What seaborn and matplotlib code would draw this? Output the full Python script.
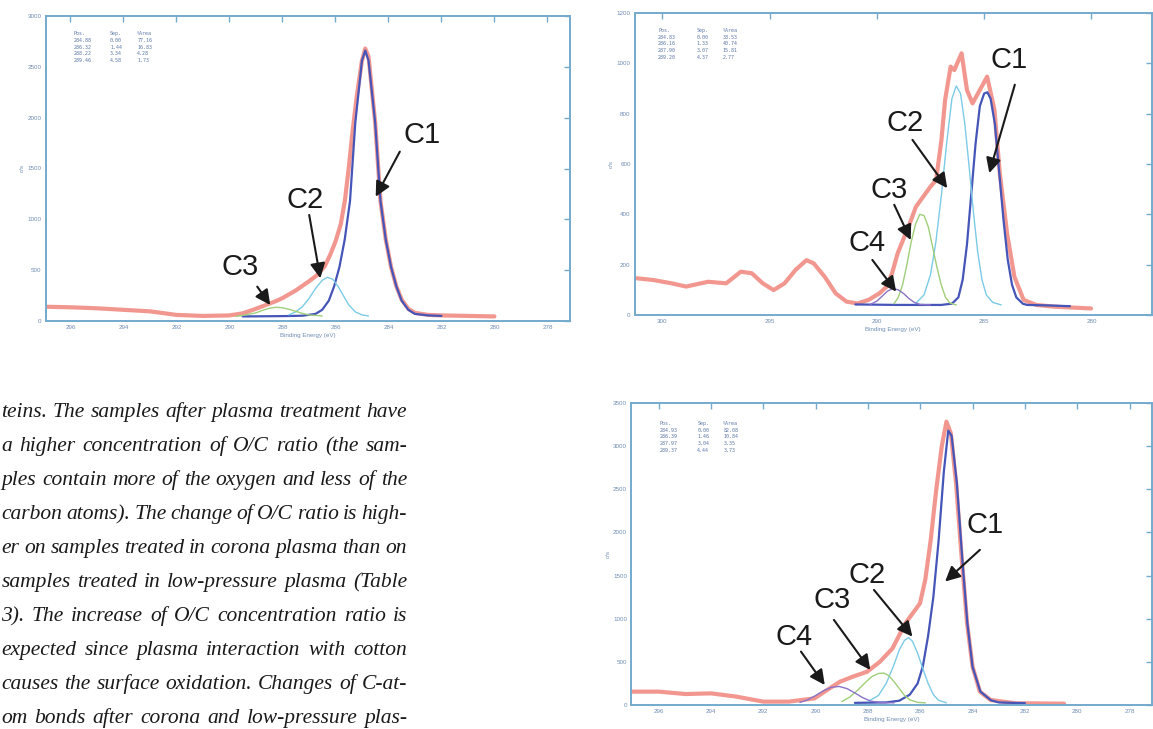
import numpy as np
import pandas as pd
import matplotlib
matplotlib.use("Agg")
import matplotlib.pyplot as plt
import seaborn as sns

sns.set_style("white")
plt.rcParams["font.family"] = ["Liberation Sans", "DejaVu Sans"]

# ---------------- data ----------------
# panel 1 (top left)
p1_red_e = [296.9, 296.0, 295.0, 294.0, 293.0, 292.0, 291.0, 290.0, 289.5, 289.0, 288.5, 288.25, 288.0,
            287.5, 287.0, 286.7, 286.4, 286.2, 286.0, 285.8, 285.64, 285.5, 285.36, 285.2, 285.0, 284.875,
            284.75, 284.5, 284.3, 284.1, 283.9, 283.7, 283.5, 283.25, 283.0, 282.5, 282.0, 281.0, 280.0]
p1_red_i = [140, 135, 125, 110, 95, 60, 50, 55, 75, 120, 170, 195, 225,
            300, 390, 450, 540, 650, 780, 950, 1190, 1500, 1850, 2200, 2560, 2680,
            2600, 1950, 1180, 800, 530, 340, 210, 120, 80, 60, 55, 50, 45]
p1_c1_e = [289.5, 288.0, 287.25, 286.75, 286.5, 286.25, 286.05, 285.85, 285.65, 285.45, 285.25, 285.0,
           284.875, 284.75, 284.5, 284.3, 284.1, 283.9, 283.7, 283.5, 283.25, 283.0, 282.5, 282.0]
p1_c1_i = [45, 48, 52, 70, 110, 200, 340, 530, 800, 1180, 1950, 2560,
           2660, 2560, 1950, 1180, 800, 530, 340, 200, 110, 70, 55, 50]
p1_c2_e = [287.75, 287.5, 287.25, 287.0, 286.75, 286.5, 286.3, 286.1, 285.9, 285.7, 285.5, 285.25, 285.0, 284.75]
p1_c2_i = [60, 90, 140, 220, 320, 400, 430, 410, 340, 250, 160, 90, 60, 50]
p1_c3_e = [289.75, 289.5, 289.0, 288.75, 288.5, 288.25, 288.0, 287.75, 287.5, 287.25, 287.0, 286.5]
p1_c3_i = [45, 55, 80, 105, 125, 135, 130, 115, 95, 75, 60, 50]

# panel 2 (top right)
p2_red_e = [301.2, 300.42, 299.57, 298.89, 297.87, 297.02, 296.34, 295.83, 295.32, 294.81, 294.3, 293.79,
            293.28, 292.94, 292.43, 291.92, 291.41, 290.9, 290.39, 289.88, 289.54, 289.29, 289.03, 288.78,
            288.52, 288.18, 287.84, 287.5, 287.24, 286.99, 286.82, 286.56, 286.39, 286.22, 286.05, 285.8,
            285.54, 285.2, 284.86, 284.52, 284.27, 283.93, 283.59, 283.16, 282.57, 281.72, 280.02]
p2_red_i = [146, 139, 126, 113, 132, 126, 172, 166, 126, 99, 126, 179,
            218, 205, 152, 86, 53, 46, 60, 86, 113, 166, 245, 298,
            351, 430, 470, 510, 536, 695, 854, 987, 973, 1007, 1040, 894,
            841, 894, 947, 815, 563, 324, 152, 60, 40, 33, 26]
p2_c1_e = [291.0, 289.0, 287.0, 286.5, 286.2, 286.0, 285.8, 285.6, 285.4, 285.2, 285.0, 284.85, 284.7,
           284.5, 284.3, 284.1, 283.9, 283.7, 283.5, 283.2, 283.0, 282.0, 281.0]
p2_c1_i = [42, 40, 40, 45, 70, 140, 280, 480, 680, 830, 880, 885, 860,
           760, 570, 380, 220, 120, 70, 45, 40, 38, 35]
p2_c2_e = [288.2, 287.8, 287.5, 287.25, 287.0, 286.75, 286.5, 286.3, 286.1, 285.9, 285.7, 285.5, 285.3,
           285.1, 284.9, 284.6, 284.2]
p2_c2_i = [45, 80, 160, 290, 470, 680, 860, 910, 880, 760, 590, 410, 250, 140, 80, 50, 40]
p2_c3_e = [289.2, 289.0, 288.8, 288.6, 288.4, 288.2, 288.0, 287.8, 287.6, 287.4, 287.2, 287.0, 286.8, 286.6, 286.3]
p2_c3_i = [45, 70, 120, 200, 290, 360, 400, 395, 350, 270, 190, 120, 70, 48, 40]
p2_c4_e = [290.3, 290.0, 289.75, 289.5, 289.25, 289.0, 288.75, 288.5, 288.25, 288.0, 287.5]
p2_c4_i = [42, 55, 75, 95, 105, 100, 85, 65, 50, 42, 40]

# panel 3 (bottom right)
p3_red_e = [297.05, 296.0, 294.97, 294.0, 293.03, 292.0, 291.03, 290.04, 289.56, 289.07, 288.58, 288.03,
            287.54, 287.06, 286.57, 286.29, 286.01, 285.81, 285.6, 285.39, 285.18, 285.0, 284.83, 284.63,
            284.42, 284.21, 284.0, 283.72, 283.31, 282.33, 281.78, 280.5]
p3_red_i = [155, 155, 127, 135, 97, 39, 39, 77, 174, 270, 328, 386,
            502, 657, 946, 1062, 1178, 1449, 1912, 2492, 2994, 3284, 3148, 2569,
            1719, 946, 444, 155, 58, 19, 19, 15]
p3_c1_e = [288.5, 287.3, 286.8, 286.4, 286.1, 285.9, 285.7, 285.5, 285.3, 285.1, 284.93, 284.8, 284.6,
           284.4, 284.2, 284.0, 283.7, 283.3, 283.0, 282.5, 282.0]
p3_c1_i = [25, 30, 50, 120, 250, 450, 800, 1250, 1900, 2700, 3180, 3120, 2570,
           1720, 950, 440, 155, 55, 30, 25, 22]
p3_c2_e = [288.0, 287.6, 287.3, 287.0, 286.8, 286.6, 286.45, 286.3, 286.1, 285.9, 285.7, 285.5, 285.3, 285.0]
p3_c2_i = [40, 110, 250, 470, 640, 750, 780, 740, 600, 420, 250, 120, 55, 25]
p3_c3_e = [289.0, 288.7, 288.4, 288.1, 287.85, 287.6, 287.4, 287.2, 287.0, 286.8, 286.6, 286.4, 286.1, 285.8]
p3_c3_i = [40, 90, 170, 260, 330, 365, 370, 340, 270, 190, 110, 60, 30, 25]
p3_c4_e = [290.6, 290.3, 290.0, 289.7, 289.4, 289.1, 288.8, 288.5, 288.2, 287.9, 287.5, 287.0]
p3_c4_i = [30, 60, 110, 165, 205, 215, 190, 140, 85, 45, 28, 25]

# fit tables printed inside each panel
p1_table = [["Pos.", "Sep.", "%Area"], ["284.88", "0.00", "77.16"], ["286.32", "1.44", "16.83"],
            ["288.22", "3.34", "4.28"], ["289.46", "4.58", "1.73"]]
p2_table = [["Pos.", "Sep.", "%Area"], ["284.83", "0.00", "38.53"], ["286.16", "1.33", "40.74"],
            ["287.90", "3.07", "15.81"], ["289.20", "4.37", "2.77"]]
p3_table = [["Pos.", "Sep.", "%Area"], ["284.93", "0.00", "82.08"], ["286.39", "1.46", "10.84"],
            ["287.97", "3.04", "3.35"], ["289.37", "4.44", "3.73"]]

# peak labels: (text, text position, arrow start, arrow tip) in data coordinates
p1_labels = [("C1", (282.73, 1830), (283.57, 1666), (284.48, 1223)),
             ("C2", (287.13, 1190), (286.99, 1043), (286.57, 420)),
             ("C3", (289.58, 534), (288.95, 338), (288.46, 157))]
p2_labels = [("C1", (283.83, 1014), (283.57, 915), (284.76, 564)),
             ("C2", (288.68, 762), (288.34, 696), (286.72, 504)),
             ("C3", (289.45, 497), (289.19, 438), (288.42, 298)),
             ("C4", (290.47, 285), (290.21, 219), (289.10, 93))]
p3_labels = [("C1", (283.51, 2088), (283.72, 1798), (285.05, 1431)),
             ("C2", (288.05, 1508), (287.77, 1334), (286.30, 793)),
             ("C3", (289.37, 1218), (289.30, 986), (287.91, 406)),
             ("C4", (290.84, 793), (290.56, 619), (289.65, 232))]

text_lines = [
    "teins. The samples after plasma treatment have",
    "a higher concentration of O/C ratio (the sam-",
    "ples contain more of the oxygen and less of the",
    "carbon atoms). The change of O/C ratio is high-",
    "er on samples treated in corona plasma than on",
    "samples treated in low-pressure plasma (Table",
    "3). The increase of O/C concentration ratio is",
    "expected since plasma interaction with cotton",
    "causes the surface oxidation. Changes of C-at-",
    "om bonds after corona and low-pressure plas-",
]

# ---------------- figure ----------------
W, H = 1153, 729
fig = plt.figure(figsize=(W / 100, H / 100), dpi=100)

spine_col = "#74aacd"
tick_col = "#6f8db5"
red_col = "#f0857b"
comp_cols = ["#4555b8", "#7ccbe6", "#9fcf7a", "#8a72c8"]


def px_axes(left, top, right, bottom):
    return fig.add_axes([left / W, 1 - bottom / H, (right - left) / W, (bottom - top) / H])


def draw_panel(ax, red_e, red_i, comps, xlim, ylim, xticks, yticks, table, tx, ty, labels):
    sns.lineplot(x=red_e, y=red_i, ax=ax, color=red_col, linewidth=3, alpha=0.85, estimator=None)
    for (ce, ci), col in zip(comps, comp_cols):
        lw = 1.6 if col == comp_cols[0] else 1.0
        sns.lineplot(x=ce, y=ci, ax=ax, color=col, linewidth=lw, estimator=None)
    ax.set_xlim(*xlim)
    ax.set_ylim(*ylim)
    ax.set_xticks(xticks)
    ax.set_yticks(yticks)
    ax.tick_params(direction="in", length=4, width=1, color=spine_col, labelcolor=tick_col,
                   labelsize=4.5, top=True, right=True, pad=3)
    for s in ax.spines.values():
        s.set_color(spine_col)
        s.set_linewidth(1.4)
    ax.set_xlabel("Binding Energy (eV)", fontsize=4.5, color=tick_col, labelpad=2)
    ax.set_ylabel("c/s", fontsize=4.5, color=tick_col, labelpad=2)
    # fit table in the corner, header row on top
    for r, row in enumerate(table):
        for c, val in enumerate(row):
            ax.text(tx[c], ty - r * 0.022, val, transform=ax.transAxes, fontsize=3.6,
                    family="DejaVu Sans Mono", color="#5d78a8", va="top", ha="left")
    for lab, tpos, start, tip in labels:
        ax.text(*tpos, lab, fontsize=21, color="#1a1a1a", ha="center", va="center")
        ax.annotate("", xy=tip, xytext=start,
                    arrowprops=dict(arrowstyle="-|>,head_length=0.9,head_width=0.45",
                                    color="#1a1a1a", lw=1.5, shrinkA=0, shrinkB=0),
                    annotation_clip=False)


ax1 = px_axes(45.5, 16, 569.7, 321)
draw_panel(ax1, p1_red_e, p1_red_i,
           [(p1_c1_e, p1_c1_i), (p1_c2_e, p1_c2_i), (p1_c3_e, p1_c3_i)],
           (296.94, 277.16), (0, 3000), np.arange(296, 277, -2), np.arange(0, 3001, 500),
           p1_table, [0.053, 0.123, 0.175], 0.95, p1_labels)

ax2 = px_axes(634.8, 13, 1151.5, 315)
draw_panel(ax2, p2_red_e, p2_red_i,
           [(p2_c1_e, p2_c1_i), (p2_c2_e, p2_c2_i), (p2_c3_e, p2_c3_i), (p2_c4_e, p2_c4_i)],
           (301.28, 277.2), (0, 1200), np.arange(300, 279, -5), np.arange(0, 1201, 200),
           p2_table, [0.045, 0.12, 0.17], 0.95, p2_labels)

ax3 = px_axes(631.2, 403, 1151.5, 705)
draw_panel(ax3, p3_red_e, p3_red_i,
           [(p3_c1_e, p3_c1_i), (p3_c2_e, p3_c2_i), (p3_c3_e, p3_c3_i), (p3_c4_e, p3_c4_i)],
           (297.05, 277.16), (0, 3500), np.arange(296, 277, -2), np.arange(0, 3501, 500),
           p3_table, [0.055, 0.127, 0.177], 0.94, p3_labels)

# ---------------- justified italic body text ----------------
renderer = fig.canvas.get_renderer()
col_left, col_right = 1.5, 407
fs = 15.5
for i, line in enumerate(text_lines):
    words = line.split()
    y = 1 - (417 + 34 * i) / H
    objs = [fig.text(0, y, w, fontsize=fs, family="Liberation Serif", style="italic",
                     color="#1a1a1a", va="baseline") for w in words]
    widths = [o.get_window_extent(renderer).width for o in objs]
    gap = (col_right - col_left - sum(widths)) / (len(words) - 1)
    x = col_left
    for o, w in zip(objs, widths):
        o.set_x(x / W)
        x += w + gap

fig.savefig("out.png", dpi=100)
